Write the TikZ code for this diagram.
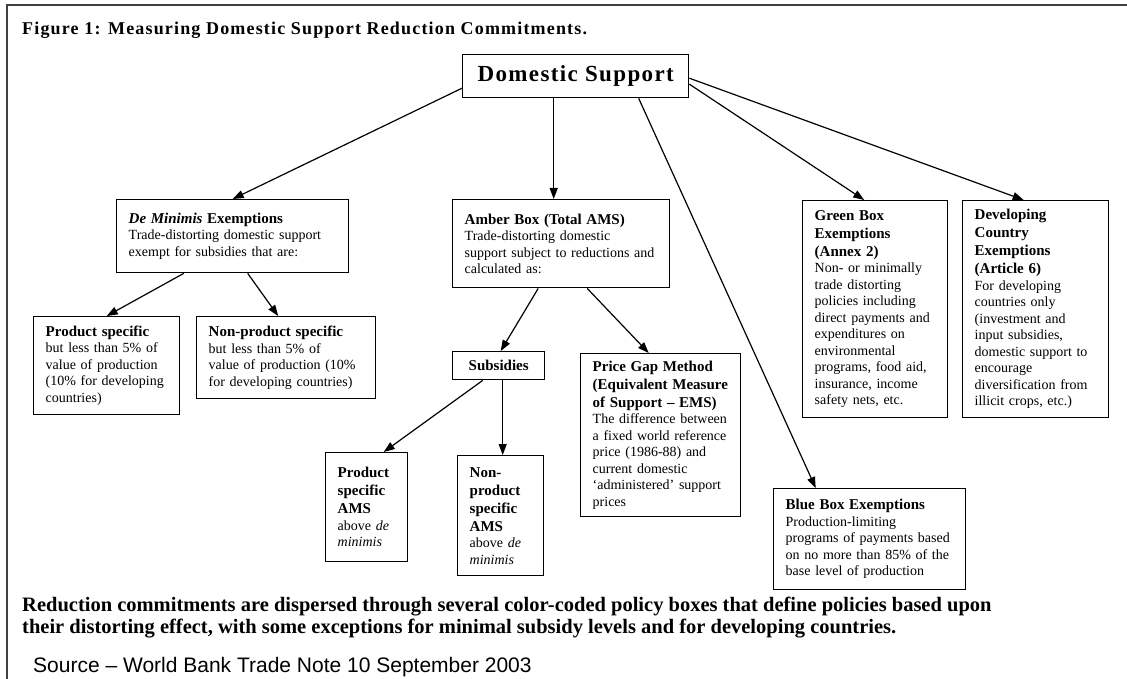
\documentclass[tikz,border=0pt]{standalone}
\usepackage{fontspec}
\setmainfont{Liberation Serif}
\setsansfont{Liberation Sans}
\usetikzlibrary{arrows.meta}

\newcommand{\hd}[1]{{\fontsize{15}{18}\selectfont\bfseries #1\par}}

\begin{document}
\begin{tikzpicture}[x=1pt,y=-1pt,
  box/.style={draw, line width=1.4pt, anchor=north west, align=left, inner xsep=12pt, inner ysep=2pt, font=\fontsize{14}{16.5}\selectfont},
  arr/.style={line width=1.2pt, -{Triangle[length=11pt,width=8pt]}},
  txt/.style={inner sep=0pt, anchor=base west}]
\useasboundingbox (0,0) rectangle (1127,679);
\draw[line width=2pt, black!75] (7,679) -- (7,5) -- (1127,5);
\node[txt, font=\fontsize{18}{20}\selectfont\bfseries\addfontfeature{LetterSpace=6.5}] (title) at (22,35) {Figure 1: Measuring Domestic Support Reduction Commitments.};
\node[draw, line width=1.4pt, anchor=north west, minimum width=226pt, minimum height=43pt, font=\fontsize{23}{26}\selectfont\bfseries\addfontfeature{LetterSpace=6}] (ds) at (462,54) {Domestic Support};
\node[box, text width=208pt, minimum height=73pt] (demin) at (116,199) {\hd{\textit{De Minimis} Exemptions}Trade-distorting domestic support\\exempt for subsidies that are:};
\node[box, text width=122pt, minimum height=98pt] (prodsp) at (33,316) {\hd{Product specific}but less than 5\% of\\value of  production\\(10\% for developing\\countries)};
\node[box, text width=155pt, minimum height=82pt] (nonprodsp) at (196,316) {\hd{Non-product specific}but less than 5\% of\\value of production (10\%\\for developing countries)};
\node[box, text width=193pt, minimum height=88pt] (amber) at (452,199) {\hd{Amber Box (Total AMS)}Trade-distorting domestic\\support subject to reductions and\\calculated as:};
\node[box, align=center, text width=68pt, minimum height=28pt] (subs) at (452,351) {\hd{Subsidies}};
\node[box, text width=136pt, minimum height=163pt] (pricegap) at (580,353) {\hd{Price Gap Method\\(Equivalent Measure\\of Support – EMS)}The difference between\\a fixed world reference\\price (1986-88) and\\current  domestic\\‘administered’ support\\prices};
\node[box, text width=58pt, minimum height=109pt] (prodams) at (325,452) {\hd{Product\\specific\\AMS}above \textit{de}\\\textit{minimis}};
\node[box, text width=62pt, minimum height=120pt] (nonprodams) at (457,455) {\hd{Non-\\product\\specific\\AMS}above \textit{de}\\\textit{minimis}};
\node[box, text width=121pt, minimum height=217pt] (green) at (802,200) {\hd{Green Box\\Exemptions\\(Annex 2)}Non- or minimally\\trade distorting\\policies including\\direct payments and\\expenditures on\\environmental\\programs, food aid,\\insurance, income\\safety nets, etc.};
\node[box, text width=122pt, minimum height=217pt] (devc) at (962,200) {\hd{Developing\\Country\\Exemptions\\(Article 6)}For developing\\countries only\\(investment and\\input subsidies,\\domestic support to\\encourage\\diversification from\\illicit crops, etc.)};
\node[box, text width=168pt, minimum height=101pt] (blue) at (773,488) {\hd{Blue Box Exemptions}Production-limiting\\programs of payments based\\on no more than 85\% of the\\base level of production};
\node[txt, anchor=north west, align=left, font=\fontsize{20.5}{21.5}\selectfont\bfseries] (note) at (22,597) {Reduction commitments are dispersed through several color-coded policy boxes that define policies based upon\\their distorting effect, with some exceptions for minimal subsidy levels and for developing countries.};
\node[txt, font=\sffamily\fontsize{21}{24}\selectfont] (src) at (33,672) {Source – World Bank Trade Note 10 September 2003};
\draw[arr] ([yshift=-12pt]ds.west) -- (demin.north);
\draw[arr] ([xshift=-22pt]ds.south) -- ([xshift=-22pt]ds.south |- amber.north);
\draw[arr] ([xshift=63pt]ds.south) -- ([xshift=-54pt]blue.north);
\draw[arr] ([yshift=-8pt]ds.east) -- ([xshift=-11pt]green.north);
\draw[arr] ([yshift=-2pt]ds.east) -- ([xshift=-12pt]devc.north);
\draw[arr] ([xshift=-49pt]demin.south) -- (prodsp.north);
\draw[arr] ([xshift=15pt]demin.south) -- ([xshift=-8pt]nonprodsp.north);
\draw[arr] ([xshift=-23pt]amber.south) -- ([xshift=2pt]subs.north);
\draw[arr] ([xshift=26pt]amber.south) -- ([xshift=-12pt]pricegap.north);
\draw[arr] ([xshift=-16pt]subs.south) -- ([xshift=17pt]prodams.north);
\draw[arr] ([xshift=4pt]subs.south) -- ([xshift=4pt]subs.south |- nonprodams.north);
\end{tikzpicture}
\end{document}
